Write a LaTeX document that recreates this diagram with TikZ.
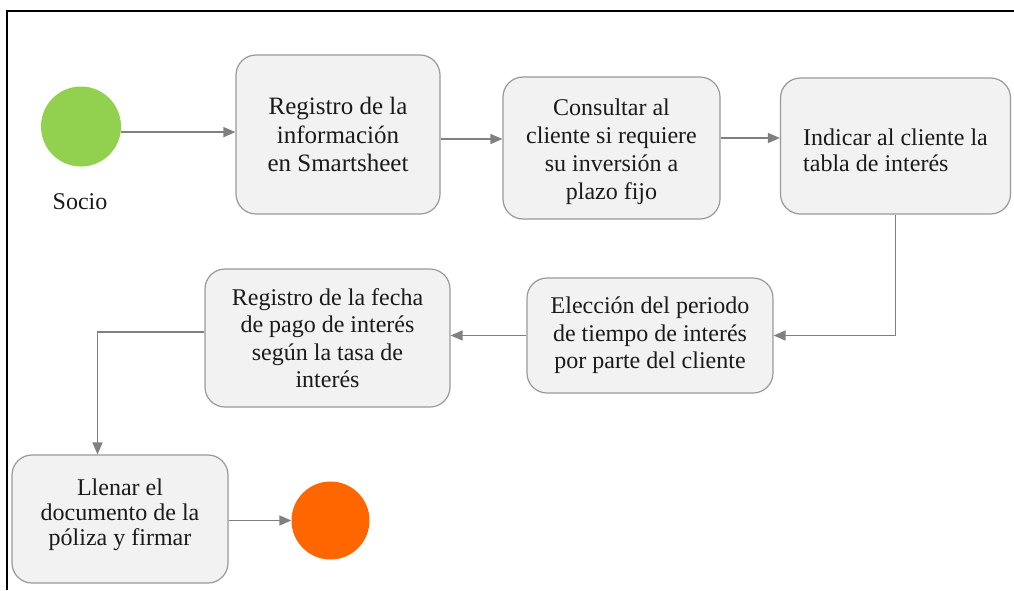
\documentclass[tikz,border=0pt]{standalone}
\usepackage{fontspec}
\setmainfont{LiberationSerif}[Extension=.ttf, UprightFont=*-Regular, BoldFont=*-Bold, ItalicFont=*-Italic, BoldItalicFont=*-BoldItalic]
\usetikzlibrary{arrows.meta}
\definecolor{boxfill}{HTML}{F2F2F2}
\definecolor{boxline}{HTML}{999999}
\definecolor{arrgray}{HTML}{808080}
\definecolor{startgreen}{HTML}{92D050}
\definecolor{endorange}{HTML}{FF6600}
\definecolor{txt}{HTML}{1A1A1A}
\tikzset{
  stepbox/.style={draw=boxline, line width=1.2pt, fill=boxfill, rounded corners=20pt,
    inner sep=0pt, align=center, text=txt, font=\fontsize{24pt}{27.5pt}\selectfont},
  steptext/.style={inner sep=0pt, align=center, text=txt, font=\fontsize{24pt}{27.5pt}\selectfont},
  arr/.style={draw=arrgray, line width=1.5pt, -{Triangle[length=12pt,width=10pt]}}
}
\begin{document}
\begin{tikzpicture}[x=1pt,y=-1pt]
\useasboundingbox (0,0) rectangle (1014,590);
\draw[line width=2pt, black] (6.5,590) -- (6.5,10.5) -- (1014,10.5);

\node[circle, fill=startgreen, minimum size=80pt, inner sep=0pt] (green) at (81,126.5) {};
\node[text=txt, font=\fontsize{24pt}{27pt}\selectfont] (socio) at (80,202) {Socio};

\node[stepbox, minimum width=204pt, minimum height=159pt, font=\fontsize{25pt}{28.5pt}\selectfont] (b1) at (338,134.5)
  {Registro de la\\información\\en Smartsheet};
\node[stepbox, minimum width=217pt, minimum height=142pt] (b2) at (611.5,148) {};
\node[steptext, font=\fontsize{24pt}{28pt}\selectfont] (t2) at (611.5,152)
  {Consultar al\\cliente si requiere\\su inversión a\\plazo fijo};
\node[stepbox, minimum width=230pt, minimum height=136pt] (b3) at (895.5,146) {};
\node[steptext, align=left, font=\fontsize{24pt}{26pt}\selectfont] (t3) at (895.5,150)
  {Indicar al cliente la\\tabla de interés};
\node[stepbox, minimum width=246pt, minimum height=115pt] (b4) at (650,335.5)
  {Elección del periodo\\de tiempo de interés\\por parte del cliente};
\node[stepbox, minimum width=245pt, minimum height=138pt] (b5) at (327.5,338)
  {Registro de la fecha\\de pago de interés\\según la tasa de\\interés};
\node[stepbox, minimum width=216pt, minimum height=128pt] (b6) at (120,519) {};
\node[steptext, font=\fontsize{24pt}{25pt}\selectfont] (t6) at (120,515)
  {Llenar el\\documento de la\\póliza y firmar};

\node[circle, fill=endorange, minimum size=78pt, inner sep=0pt] (orange) at (330.5,520.5) {};

\coordinate (y12) at (0,139);
\coordinate (y23) at (0,138);
\coordinate (c5) at (97.5,332);

\draw[arr] (green.-8) -- (green.-8 -| b1.west);
\draw[arr] (b1.east |- y12) -- (b2.west |- y12);
\draw[arr] (b2.east |- y23) -- (b3.west |- y23);
\draw[arr] (b3.south) |- (b4.east);
\draw[arr] (b4.west) -- (b4.west -| b5.east);
\draw[arr] (b5.west |- c5) -- (c5) -- (c5 |- b6.north);
\draw[arr] (b6.east |- orange.west) -- (orange.west);
\end{tikzpicture}
\end{document}
